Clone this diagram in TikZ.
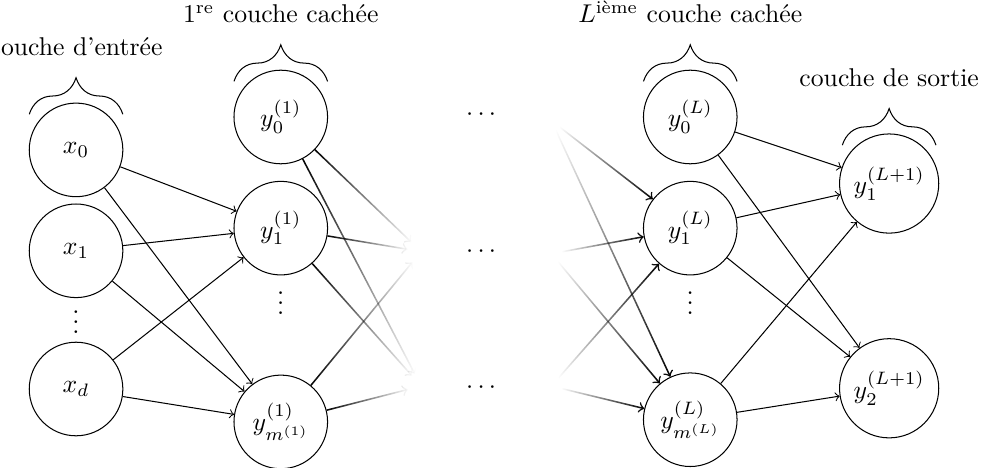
\documentclass[tikz,border=0pt]{standalone}
\usepackage{amsmath}
\usetikzlibrary{decorations.pathreplacing,fadings}
\tikzfading[name=fondu sortant, left color=transparent!0, middle color=transparent!0, right color=transparent!100]
\tikzfading[name=fondu entrant, left color=transparent!100, middle color=transparent!0, right color=transparent!0]
\begin{document}
\begin{tikzpicture}[
    neurone/.style={draw,circle,minimum size=1.28cm,inner sep=3pt},
    fantome/.style={circle,minimum size=#1,inner sep=0pt},
    accolade/.style={decorate,decoration={brace,amplitude=0.5cm}},
    sortant/.style={->,semithick,path fading=fondu sortant},
    entrant/.style={->,semithick,path fading=fondu entrant}]
    \useasboundingbox (-1.04,0) rectangle (12.39,6.4);
    % couche d'entree
    \node[neurone] (x0) at (0,4.35) {$x_0$};
    \node[neurone] (x1) at (0,2.97) {$x_1$};
    \node[inner sep=0pt] (xv) at (0,2.1) {$\vdots$};
    \node[neurone] (xd) at (0,1.08) {$x_d$};
    % premiere couche cachee
    \node[neurone] (a0) at (2.8,4.8) {$y_0^{(1)}$};
    \node[neurone] (a1) at (2.8,3.28) {$y_1^{(1)}$};
    \node[inner sep=0pt] (av) at (2.8,2.36) {$\vdots$};
    \node[neurone] (am) at (2.8,0.63) {$y_{m^{(1)}}^{(1)}$};
    % couches du milieu
    \node[fantome=0.36cm] (h1) at (4.72,2.96) {};
    \node[fantome=0.36cm] (h2) at (4.72,1.12) {};
    \node (d0) at (5.57,4.83) {$\cdots$};
    \node (d1) at (5.57,2.95) {$\cdots$};
    \node (d2) at (5.57,1.09) {$\cdots$};
    \node[fantome=0.28cm] (g0) at (6.5,4.75) {};
    \node[fantome=0.28cm] (g1) at (6.5,2.93) {};
    \node[fantome=0.28cm] (g2) at (6.5,1.12) {};
    % L-ieme couche cachee
    \node[neurone] (b0) at (8.4,4.8) {$y_0^{(L)}$};
    \node[neurone] (b1) at (8.4,3.28) {$y_1^{(L)}$};
    \node[inner sep=0pt] (bv) at (8.4,2.36) {$\vdots$};
    \node[neurone] (bm) at (8.4,0.66) {$y_{m^{(L)}}^{(L)}$};
    % couche de sortie
    \node[neurone] (c1) at (11.12,3.89) {$y_1^{(L+1)}$};
    \node[neurone] (c2) at (11.12,1.09) {$y_2^{(L+1)}$};
    % accolades et titres
    \foreach \n/\t in {x0/{couche d'entrée},a0/{1\textsuperscript{re} couche cachée},
        b0/{$L^{\text{ième}}$ couche cachée},c1/{couche de sortie}}{
        \draw[accolade] ([xshift=-0.64cm,yshift=-0.16cm]\n.north) -- ([xshift=0.64cm,yshift=-0.16cm]\n.north);
        \node[anchor=base] (t\n) at ([yshift=0.64cm]\n.north) {\t};
    }
    % connexions
    \foreach \i in {x0,x1,xd}
    \foreach \j in {a1,am}
    \draw[->] (\i) -- (\j);
    \foreach \i in {a0,a1,am}
    \foreach \j in {h1,h2}
    \draw[sortant] (\i) -- (\j);
    \foreach \i in {g0,g1,g2}
    \foreach \j in {b1,bm}
    \draw[entrant] (\i) -- (\j);
    \foreach \i in {b0,b1,bm}
    \foreach \j in {c1,c2}
    \draw[->] (\i) -- (\j);
\end{tikzpicture}
\end{document}
